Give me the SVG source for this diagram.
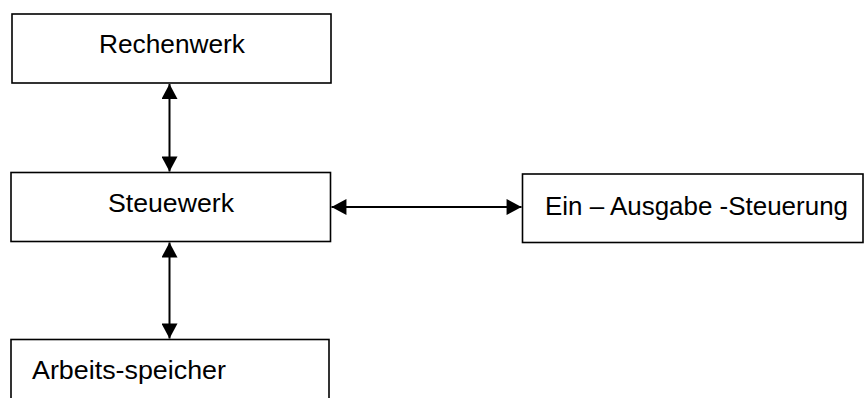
<svg xmlns="http://www.w3.org/2000/svg" width="864" height="398" viewBox="0 0 864 398">
<style>
.box{fill:#fff;stroke:#000;stroke-width:1.6}
.lbl{font-family:"Liberation Sans",Arial,sans-serif;font-size:26px;fill:#000}
.con{stroke:#000;stroke-width:2;fill:none}
</style>
<defs>
<marker id="ah" markerUnits="userSpaceOnUse" markerWidth="16" markerHeight="16" viewBox="0 0 14 15" refX="14" refY="7.5" orient="auto-start-reverse">
<path d="M0,0 L14,7.5 L0,15 Z" fill="#000"/>
</marker>
</defs>
<rect width="864" height="398" fill="#fff"/>
<g id="rechenwerk">
<rect class="box" x="12" y="14" width="319" height="69"/>
<text class="lbl" x="99" y="53" textLength="146" lengthAdjust="spacingAndGlyphs">Rechenwerk</text>
</g>
<g id="steuewerk">
<rect class="box" x="11" y="172.5" width="319.5" height="69"/>
<text class="lbl" x="108" y="212" textLength="126" lengthAdjust="spacingAndGlyphs">Steuewerk</text>
</g>
<g id="ein-ausgabe">
<rect class="box" x="522.5" y="174" width="340.5" height="68.5"/>
<text class="lbl" x="545" y="215" textLength="303" lengthAdjust="spacingAndGlyphs">Ein – Ausgabe -Steuerung</text>
</g>
<g id="arbeitsspeicher">
<rect class="box" x="11" y="339.5" width="318" height="70"/>
<text class="lbl" x="32" y="379" textLength="194" lengthAdjust="spacingAndGlyphs">Arbeits-speicher</text>
</g>
<g id="connectors">
<line class="con" x1="169.5" y1="84" x2="169.5" y2="171.5" marker-start="url(#ah)" marker-end="url(#ah)"/>
<line class="con" x1="169.5" y1="242.5" x2="169.5" y2="338.5" marker-start="url(#ah)" marker-end="url(#ah)"/>
<line class="con" x1="331.5" y1="207" x2="521.5" y2="207" marker-start="url(#ah)" marker-end="url(#ah)"/>
</g>
</svg>
